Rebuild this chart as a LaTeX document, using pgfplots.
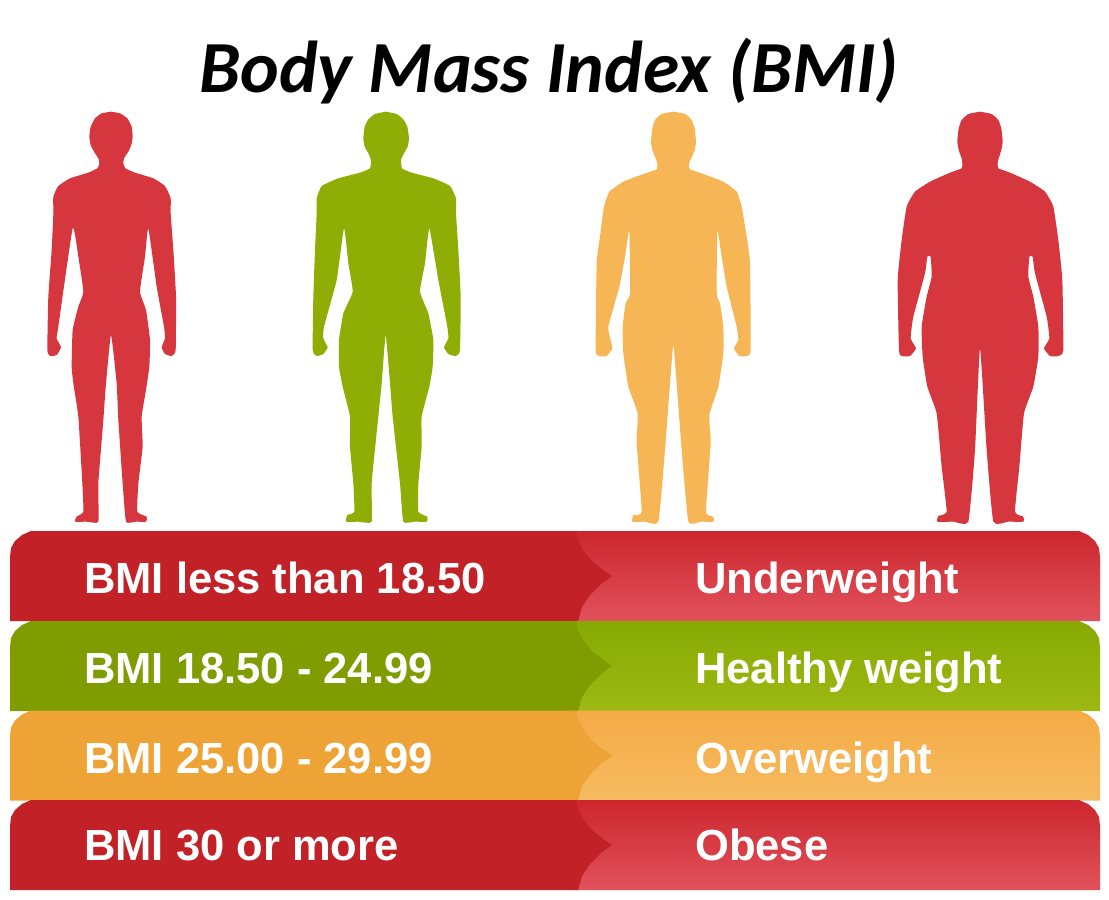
\documentclass[border=0pt]{standalone}
\usepackage{pgfplots}
\pgfplotsset{compat=1.18}
\usepackage{fontspec}
\setmainfont{Liberation Sans}
\newfontfamily\titlefont{Carlito}
\definecolor{redfig}{HTML}{D6373E}
\definecolor{greenfig}{HTML}{8FAE05}
\definecolor{orangefig}{HTML}{F6B656}
\definecolor{reddark}{HTML}{C22127}
\definecolor{greendark}{HTML}{7F9C00}
\definecolor{orangedark}{HTML}{EEA337}
\definecolor{redtop}{HTML}{CD262E}
\definecolor{redbot}{HTML}{E1525C}
\definecolor{greentop}{HTML}{87A903}
\definecolor{greenbot}{HTML}{9DB913}
\definecolor{orangetop}{HTML}{F5AB46}
\definecolor{orangebot}{HTML}{F6BB60}
\pgfplotsset{
 fig/.style={draw=none,smooth,tension=0.25,no markers},
}
\tikzset{
 lbl/.style={anchor=base west,text=white,font=\fontsize{43.7}{46}\selectfont\bfseries,inner sep=0pt},
}
\newcommand{\bandR}[3]{% y offset, top, bottom
 \addplot[draw=none,no markers,top color=#2,bottom color=#3] table[x=x,y expr=\thisrow{y}+#1,row sep=\\]{
 x y\\ 574 531\\ 1079 531\\ 1088 535\\ 1095 541\\ 1099 548\\ 1100 557\\ 1100 621\\ 574 621\\ 574 531\\};
}
\newcommand{\bandL}[2]{% y offset, colour
 \addplot[draw=none,no markers,fill=#2] table[x=x,y expr=\thisrow{y}+#1,row sep=\\]{
 x y\\ 31 531\\ 576 531\\ 578 540\\ 583 550\\ 592 561\\ 602 569\\ 612 576\\ 601 584\\ 590 595\\ 582 607\\ 578 621\\ 10 621\\ 10 557\\ 11 548\\ 15 541\\ 22 535\\ 31 531\\};
}
\begin{document}
\begin{tikzpicture}
\begin{axis}[
 scale only axis,width=1109bp,height=900bp,
 xmin=0,xmax=1109,ymin=0,ymax=900,y dir=reverse,
 hide axis,clip=false,
]
\addplot[fill=white,draw=none,no markers] coordinates {(0,0)(1109,0)(1109,900)(0,900)};
% Underweight figure
\addplot[fig,fill=redfig] table[x expr=20+\thisrow{x}/3,y expr=100+\thisrow{y}/3,row sep=\\]{
x y\\ 273 35\\ 300 40\\ 322 55\\ 335 80\\ 338 110\\ 334 135\\ 325 155\\ 312 175\\ 310 190\\ 316 205\\ 345 218\\ 400 235\\ 435 258\\ 452 295\\ 452 340\\ 460 450\\ 468 590\\ 467 750\\ 455 768\\ 435 762\\ 425 742\\ 435 715\\ 432 680\\ 410 560\\ 385 385\\ 375 470\\ 360 575\\ 378 630\\ 390 720\\ 388 800\\ 378 870\\ 365 950\\ 368 1040\\ 355 1150\\ 352 1235\\ 380 1250\\ 378 1265\\ 348 1265\\ 318 1265\\ 308 1150\\ 295 960\\ 290 850\\ 273 705\\ 258 850\\ 250 960\\ 235 1150\\ 235 1265\\ 200 1265\\ 165 1265\\ 170 1250\\ 190 1235\\ 187 1150\\ 175 950\\ 160 850\\ 155 800\\ 158 690\\ 175 620\\ 190 575\\ 175 470\\ 158 385\\ 115 680\\ 110 715\\ 123 742\\ 110 765\\ 90 768\\ 82 750\\ 85 590\\ 95 450\\ 100 340\\ 100 290\\ 115 258\\ 150 235\\ 205 218\\ 232 205\\ 238 190\\ 235 175\\ 222 155\\ 212 135\\ 208 110\\ 212 80\\ 225 55\\ 245 40\\ 273 35\\};
% Healthy figure
\addplot[fig,fill=greenfig] table[x expr=20+\thisrow{x}/3,y expr=100+\thisrow{y}/3,row sep=\\]{
x y\\ 1097 35\\ 1130 42\\ 1150 58\\ 1162 80\\ 1167 115\\ 1163 140\\ 1152 160\\ 1143 180\\ 1146 205\\ 1175 218\\ 1240 235\\ 1290 258\\ 1308 295\\ 1308 340\\ 1315 450\\ 1322 590\\ 1320 750\\ 1308 768\\ 1285 762\\ 1272 742\\ 1285 715\\ 1282 680\\ 1255 540\\ 1228 385\\ 1215 490\\ 1200 575\\ 1225 640\\ 1240 720\\ 1238 800\\ 1228 860\\ 1205 950\\ 1205 1040\\ 1195 1150\\ 1195 1235\\ 1222 1250\\ 1220 1265\\ 1185 1265\\ 1150 1265\\ 1140 1150\\ 1118 950\\ 1110 850\\ 1097 705\\ 1085 850\\ 1075 950\\ 1055 1150\\ 1055 1265\\ 1015 1265\\ 978 1265\\ 982 1245\\ 1003 1235\\ 1000 1150\\ 990 1040\\ 990 950\\ 968 860\\ 957 800\\ 957 720\\ 970 640\\ 998 575\\ 985 490\\ 972 385\\ 950 540\\ 912 680\\ 910 715\\ 923 742\\ 910 762\\ 890 768\\ 878 750\\ 880 590\\ 885 450\\ 890 340\\ 890 295\\ 905 258\\ 955 235\\ 1020 218\\ 1050 205\\ 1053 180\\ 1045 160\\ 1034 140\\ 1030 115\\ 1034 80\\ 1045 58\\ 1065 42\\ 1097 35\\};
% Overweight figure
\addplot[fig,fill=orangefig] table[x expr=580+\thisrow{x}/3,y expr=100+\thisrow{y}/3,row sep=\\]{
x y\\ 280 35\\ 316 42\\ 335 60\\ 344 85\\ 348 125\\ 344 150\\ 336 170\\ 327 190\\ 330 208\\ 370 222\\ 430 245\\ 470 275\\ 485 320\\ 500 410\\ 510 490\\ 512 750\\ 500 768\\ 478 768\\ 462 745\\ 475 720\\ 470 680\\ 440 560\\ 425 470\\ 412 390\\ 410 580\\ 420 610\\ 430 680\\ 430 760\\ 415 860\\ 388 945\\ 392 1030\\ 378 1235\\ 400 1250\\ 400 1265\\ 362 1265\\ 325 1265\\ 305 1050\\ 290 850\\ 280 735\\ 270 850\\ 255 1050\\ 235 1265\\ 195 1265\\ 157 1265\\ 160 1245\\ 185 1235\\ 170 1030\\ 173 940\\ 145 860\\ 130 760\\ 128 680\\ 137 610\\ 150 580\\ 148 390\\ 135 470\\ 118 560\\ 85 680\\ 92 720\\ 97 745\\ 80 768\\ 58 768\\ 47 750\\ 50 490\\ 60 410\\ 72 320\\ 88 275\\ 130 245\\ 190 222\\ 230 208\\ 232 190\\ 225 170\\ 217 150\\ 213 125\\ 217 85\\ 225 60\\ 245 42\\ 280 35\\};
% Obese figure
\addplot[fig,fill=redfig] table[x expr=580+\thisrow{x}/3,y expr=100+\thisrow{y}/3,row sep=\\]{
x y\\ 1200 35\\ 1235 42\\ 1255 60\\ 1264 85\\ 1268 125\\ 1264 150\\ 1256 175\\ 1253 190\\ 1255 205\\ 1290 218\\ 1350 245\\ 1395 275\\ 1420 320\\ 1435 420\\ 1447 540\\ 1450 750\\ 1435 768\\ 1410 768\\ 1392 745\\ 1408 715\\ 1400 650\\ 1365 520\\ 1358 470\\ 1348 470\\ 1345 530\\ 1360 590\\ 1375 680\\ 1375 770\\ 1360 860\\ 1332 940\\ 1318 1100\\ 1305 1235\\ 1330 1250\\ 1330 1265\\ 1285 1265\\ 1240 1265\\ 1220 1050\\ 1200 745\\ 1185 1050\\ 1165 1265\\ 1120 1265\\ 1072 1265\\ 1075 1248\\ 1100 1235\\ 1085 1100\\ 1070 940\\ 1042 860\\ 1028 770\\ 1025 680\\ 1040 590\\ 1055 530\\ 1052 470\\ 1042 470\\ 1035 520\\ 1000 650\\ 992 715\\ 1008 745\\ 990 768\\ 965 768\\ 957 750\\ 953 540\\ 965 420\\ 980 320\\ 1005 275\\ 1050 245\\ 1110 218\\ 1145 205\\ 1147 190\\ 1145 175\\ 1136 150\\ 1132 125\\ 1136 85\\ 1145 60\\ 1165 42\\ 1200 35\\};
% Bands
\bandR{0}{redtop}{redbot}\bandL{0}{reddark}
\bandR{90}{greentop}{greenbot}\bandL{90}{greendark}
\bandR{179.5}{orangetop}{orangebot}\bandL{179.5}{orangedark}
\bandR{269}{redtop}{redbot}\bandL{269}{reddark}
% Text
\node[anchor=base,inner sep=0pt,font=\titlefont\fontsize{73.7}{76}\selectfont\bfseries\itshape] at (axis cs:549,92) {Body Mass Index (BMI)};
\node[lbl] at (axis cs:84,593) {BMI less than 18.50};
\node[lbl] at (axis cs:84,683) {BMI 18.50 - 24.99};
\node[lbl] at (axis cs:84,773) {BMI 25.00 - 29.99};
\node[lbl] at (axis cs:84,860.5) {BMI 30 or more};
\node[lbl] at (axis cs:695,593) {Underweight};
\node[lbl] at (axis cs:695,683) {Healthy weight};
\node[lbl] at (axis cs:695,773) {Overweight};
\node[lbl] at (axis cs:695,860.5) {Obese};
\end{axis}
\end{tikzpicture}
\end{document}
